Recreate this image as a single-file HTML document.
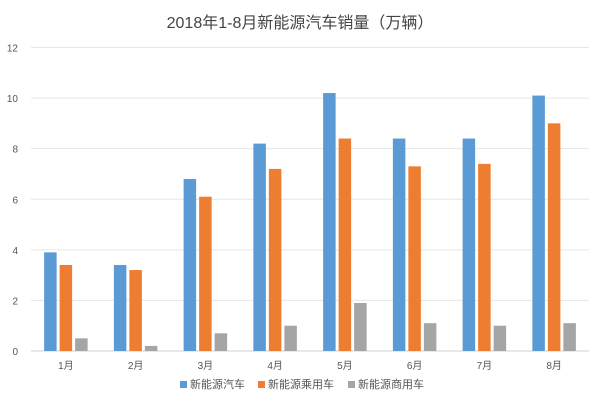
<!DOCTYPE html>
<html><head><meta charset="utf-8"><style>
body{margin:0;background:#fff;font-family:"Liberation Sans","Noto Sans CJK SC",sans-serif;}
svg text{font-family:"Liberation Sans","Noto Sans CJK SC",sans-serif;}
</style></head><body>
<svg id="chart" width="600" height="401">
<text x="300" y="28" text-anchor="middle" font-size="16" fill="#444">2018年1-8月新能源汽车销量（万辆）</text>
<g id="grid"></g><g id="bars"></g><g id="xlab"></g>
<g>
<rect x="180" y="381" width="7" height="7" fill="#5b9bd5"/>
<text x="190" y="388" font-size="11" fill="#555">新能源汽车</text>
<rect x="258" y="381" width="7" height="7" fill="#ed7d31"/>
<text x="268" y="388" font-size="11" fill="#555">新能源乘用车</text>
<rect x="348" y="381" width="7" height="7" fill="#a5a5a5"/>
<text x="358" y="388" font-size="11" fill="#555">新能源商用车</text>
</g>
</svg>
<script>
const categories=["1月","2月","3月","4月","5月","6月","7月","8月"];
const evTotal=[3.9,3.4,6.8,8.2,10.2,8.4,8.4,10.1];
const evPassenger=[3.4,3.2,6.1,7.2,8.4,7.3,7.4,9.0];
const evCommercial=[0.5,0.2,0.7,1.0,1.9,1.1,1.0,1.1];
const yTicks=[0,2,4,6,8,10,12];
const NS="http://www.w3.org/2000/svg";
const x0=31,x1=589,y0=351,yMax=12,yTop=47.5;
const band=(x1-x0)/categories.length;
const y=v=>y0-(v/yMax)*(y0-yTop);
const xc=i=>x0+band*(i+0.5);
const grid=document.getElementById('grid');
yTicks.forEach(t=>{
 const l=document.createElementNS(NS,'line');
 l.setAttribute('x1',x0);l.setAttribute('x2',x1);l.setAttribute('y1',y(t));l.setAttribute('y2',y(t));
 l.setAttribute('stroke',t===0?'#d0d0d0':'#e6e6e6');l.setAttribute('stroke-width','1');
 
 
 grid.appendChild(l);
 const tx=document.createElementNS(NS,'text');
 tx.setAttribute('x',18);tx.setAttribute('y',y(t)+4);tx.setAttribute('text-anchor','end');
 tx.setAttribute('font-size','10');tx.setAttribute('fill','#555');tx.textContent=t;
 
 
 grid.appendChild(tx);
});
const series=[[evTotal,'#5b9bd5','ev'],[evPassenger,'#ed7d31','passenger'],[evCommercial,'#a5a5a5','commercial']];
const bw=12.5,gap=3;
const bars=document.getElementById('bars'),xl=document.getElementById('xlab');
categories.forEach((c,i)=>{
 series.forEach(([vals,col,nm],s)=>{
  const r=document.createElementNS(NS,'rect');
  const bx=xc(i)-(3*bw+2*gap)/2+s*(bw+gap);
  r.setAttribute('x',bx);r.setAttribute('y',y(vals[i]));r.setAttribute('width',bw);
  r.setAttribute('height',y0-y(vals[i]));r.setAttribute('fill',col);
  
  
  bars.appendChild(r);
 });
 const t=document.createElementNS(NS,'text');
 t.setAttribute('x',xc(i));t.setAttribute('y',369);t.setAttribute('text-anchor','middle');
 t.setAttribute('font-size','10');t.setAttribute('fill','#555');t.textContent=c;
 
 
 xl.appendChild(t);
});
</script>
</body></html>
